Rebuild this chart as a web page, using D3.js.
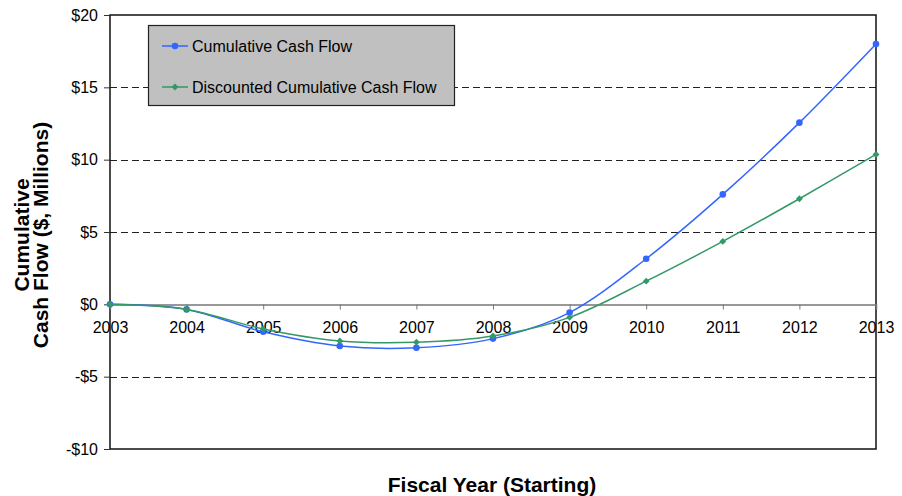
<!DOCTYPE html>
<html>
<head>
<meta charset="utf-8">
<script src="https://cdn.jsdelivr.net/npm/d3@7"></script>
<style>
  html, body { margin: 0; padding: 0; background: #fff; }
  svg { display: block; font-family: Arial, "Liberation Sans", sans-serif; }
</style>
</head>
<body>
<svg id="chart" width="902" height="496"></svg>
<script>
// Fiscal years on the x axis
const years = [2003, 2004, 2005, 2006, 2007, 2008, 2009, 2010, 2011, 2012, 2013];
// Cumulative cash flow, $ millions
const cumulative = [0, -0.35, -1.9, -2.88, -3.0, -2.37, -0.57, 3.15, 7.6, 12.56, 18.0];
// Discounted cumulative cash flow, $ millions
const discounted = [0, -0.35, -1.7, -2.53, -2.62, -2.19, -0.9, 1.6, 4.35, 7.3, 10.36];
// Y axis ticks, $ millions
const yTicks = [-10, -5, 0, 5, 10, 15, 20];
const seriesNames = ["Cumulative Cash Flow", "Discounted Cumulative Cash Flow"];

const svg = d3.select("#chart");
const plotLeft = 110, plotRight = 876, plotTop = 15, plotBottom = 449;

const x = d3.scaleLinear().domain([2003, 2013]).range([plotLeft, plotRight]);
const y = d3.scaleLinear().domain([-10, 20]).range([plotBottom, plotTop]);

// dashed horizontal gridlines (not at the zero line or frame edges)
svg.append("g").selectAll("line")
  .data(yTicks.filter(v => v !== 0 && v !== 20 && v !== -10))
  .join("line")
  .attr("x1", plotLeft).attr("x2", plotRight)
  .attr("y1", d => Math.round(y(d)) + 0.5).attr("y2", d => Math.round(y(d)) + 0.5)
  .attr("stroke", "#222").attr("stroke-width", 1)
  .attr("stroke-dasharray", "7,4");

// plot frame
svg.append("rect")
  .attr("x", plotLeft).attr("y", plotTop)
  .attr("width", plotRight - plotLeft).attr("height", plotBottom - plotTop)
  .attr("fill", "none").attr("stroke", "#111").attr("stroke-width", 1.5);

// y axis with outer ticks
const yAxis = d3.axisLeft(y).tickValues(yTicks).tickSize(6).tickPadding(6)
  .tickFormat(d => (d < 0 ? "-$" : "$") + Math.abs(d));
const gy = svg.append("g").attr("transform", `translate(${plotLeft},0)`).call(yAxis);
gy.select(".domain").remove();
gy.selectAll(".tick line").attr("stroke", "#333");
gy.selectAll(".tick text").attr("font-size", 16).attr("fill", "#000")
  .attr("font-family", "Arial, 'Liberation Sans', sans-serif");

// x axis along the zero line
const xAxis = d3.axisBottom(x).tickValues(years).tickSize(5).tickPadding(12)
  .tickFormat(d3.format("d"));
const gx = svg.append("g").attr("transform", `translate(0,${Math.round(y(0)) + 0.5})`).call(xAxis);
gx.select(".domain").attr("stroke", "#777").attr("stroke-width", 1.5);
gx.selectAll(".tick line").attr("stroke", "#777");
gx.selectAll(".tick text").attr("font-size", 16).attr("fill", "#000")
  .attr("font-family", "Arial, 'Liberation Sans', sans-serif");

// smoothed series lines
const line = d3.line().x(d => x(d[0])).y(d => y(d[1])).curve(d3.curveCatmullRom.alpha(0));
const seriesData = [
  { name: seriesNames[0], color: "#3366FF", values: years.map((yr, i) => [yr, cumulative[i]]), symbol: d3.symbolCircle, size: 34 },
  { name: seriesNames[1], color: "#339966", values: years.map((yr, i) => [yr, discounted[i]]), symbol: d3.symbolDiamond2, size: 30 }
];

seriesData.forEach(s => {
  svg.append("path").datum(s.values)
    .attr("d", line).attr("fill", "none")
    .attr("stroke", s.color).attr("stroke-width", 1.5);
  svg.append("g").selectAll("path").data(s.values).join("path")
    .attr("transform", d => `translate(${x(d[0])},${y(d[1])})`)
    .attr("d", d3.symbol().type(s.symbol).size(s.size))
    .attr("fill", s.color);
});

// legend
const lg = svg.append("g");
lg.append("rect").attr("x", 148.5).attr("y", 25.5).attr("width", 306).attr("height", 80)
  .attr("fill", "#C0C0C0").attr("stroke", "#222").attr("stroke-width", 1.2);
seriesData.forEach((s, i) => {
  const cy = 46 + i * 41;
  lg.append("line").attr("x1", 162).attr("x2", 188).attr("y1", cy).attr("y2", cy)
    .attr("stroke", s.color).attr("stroke-width", 1.5);
  lg.append("path").attr("transform", `translate(175,${cy})`)
    .attr("d", d3.symbol().type(s.symbol).size(s.size)).attr("fill", s.color);
  lg.append("text").attr("x", 192).attr("y", cy).attr("dy", "0.35em")
    .attr("font-size", 16).attr("fill", "#000").text(s.name);
});

// axis titles
svg.append("text").attr("x", 492).attr("y", 492)
  .attr("text-anchor", "middle").attr("font-size", 21).attr("font-weight", "bold")
  .text("Fiscal Year (Starting)");

const yt = svg.append("text").attr("transform", "translate(0,235) rotate(-90)")
  .attr("text-anchor", "middle").attr("font-size", 21).attr("font-weight", "bold");
yt.append("tspan").attr("x", 0).attr("y", 29).text("Cumulative");
yt.append("tspan").attr("x", 0).attr("y", 48).text("Cash Flow ($, Millions)");
</script>
</body>
</html>
